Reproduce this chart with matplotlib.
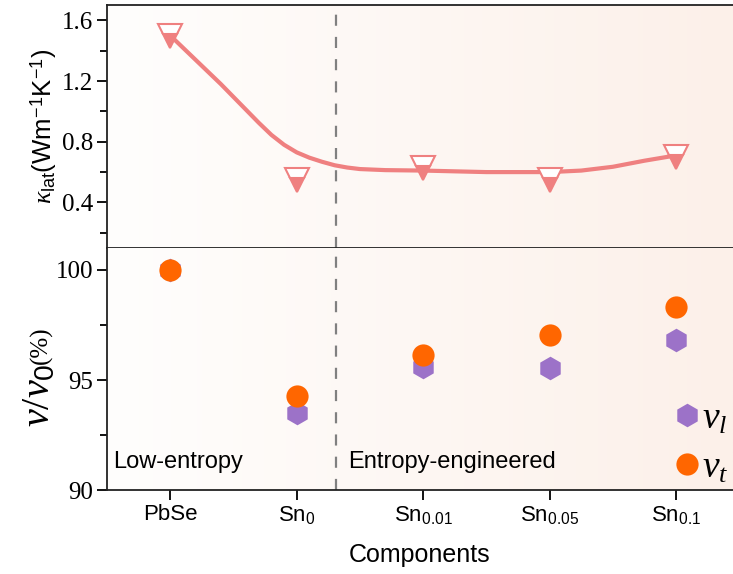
import numpy as np
import matplotlib.pyplot as plt
from matplotlib.lines import Line2D

plt.rcParams['font.family'] = ['Liberation Sans', 'DejaVu Sans']
plt.rcParams['font.serif'] = ['Liberation Serif', 'DejaVu Serif']
plt.rcParams['mathtext.fontset'] = 'custom'
plt.rcParams['mathtext.rm'] = 'Liberation Sans'
plt.rcParams['mathtext.it'] = 'Liberation Serif:italic'
plt.rcParams['mathtext.sf'] = 'Liberation Sans'

# samples along the x axis
components = ['PbSe', 'Sn$_{0}$', 'Sn$_{0.01}$', 'Sn$_{0.05}$', 'Sn$_{0.1}$']
kappa_lat = [1.50, 0.545, 0.624, 0.545, 0.697]

# smooth guide line through the kappa points
guide_x = [0, 0.1, 0.2, 0.3, 0.4, 0.5, 0.6, 0.7, 0.8, 0.9, 1.0, 1.1, 1.2,
           1.3, 1.4, 1.5, 1.7, 2.0, 2.5, 3.0, 3.25, 3.5, 3.75, 4.0]
guide_y = [1.50, 1.42, 1.34, 1.26, 1.18, 1.095, 1.01, 0.925, 0.845, 0.78,
           0.73, 0.695, 0.668, 0.645, 0.63, 0.62, 0.613, 0.61, 0.60, 0.60,
           0.61, 0.635, 0.675, 0.71]

# sound velocities relative to PbSe (%)
v_long = [100.0, 93.5, 95.6, 95.56, 96.82]
v_trans = [100.0, 94.29, 96.14, 97.05, 98.33]

divider = 1.31

pink = '#ef8080'
purple = '#9c72c8'
orange = '#ff6600'

fig = plt.figure(figsize=(7.33, 5.74), dpi=100)
ax1 = fig.add_axes([0.146, 0.568, 0.854, 0.423])
ax2 = fig.add_axes([0.146, 0.146, 0.854, 0.422], sharex=ax1)

x = np.arange(len(components))

# soft horizontal background shading
grad = np.linspace(0, 1, 256)
c0 = np.array([255, 254, 253]) / 255
c1 = np.array([252, 240, 233]) / 255
bg = (c0[None, :] * (1 - grad[:, None]) + c1[None, :] * grad[:, None])[None, :, :]
for ax in (ax1, ax2):
    ax.imshow(bg, aspect='auto', extent=[0, 1, 0, 1], transform=ax.transAxes,
              zorder=0)

# top panel: lattice thermal conductivity
ax1.plot(guide_x, guide_y, color=pink, lw=3, zorder=2, solid_capstyle='round')
ax1.plot(x, kappa_lat, linestyle='none', marker='v', markersize=17,
         fillstyle='bottom', markerfacecolor=pink, markerfacecoloralt='white',
         markeredgecolor=pink, markeredgewidth=1.5, zorder=3)
ax1.set_ylim(0.1, 1.7)
ax1.set_yticks([0.4, 0.8, 1.2, 1.6])
ax1.set_yticks([0.2, 0.6, 1.0, 1.4], minor=True)
ax1.set_ylabel(r'$\kappa_{\rm lat}$(Wm$^{-1}$K$^{-1}$)', fontsize=18.5,
               labelpad=2)
ax1.tick_params(axis='x', which='both', bottom=False, labelbottom=False)

# bottom panel: sound velocities
ax2.plot(x, v_long, linestyle='none', marker='h', markersize=17,
         color=purple, markeredgewidth=0, zorder=3)
ax2.plot(x, v_trans, linestyle='none', marker='o', markersize=16,
         color=orange, markeredgewidth=0, zorder=4)
ax2.set_ylim(90, 101)
ax2.set_yticks([90, 95, 100])
ax2.set_yticks([92.5, 97.5], minor=True)
ax2.set_xlim(-0.5, 4.45)
ax2.set_xticks(x)
ax2.set_xticklabels(components, fontsize=16)
ax2.set_xlabel('Components', fontsize=18, labelpad=12)

# y label of the lower panel: large italic ratio, smaller unit
fig.text(0.054, 0.312, r'$\nu$/$\nu_0$', rotation=90, fontsize=29,
         family='serif', ha='center', va='center')
fig.text(0.056, 0.398, '(%)', rotation=90, fontsize=18, family='serif',
         ha='center', va='center')

for ax in (ax1, ax2):
    ax.axvline(divider, color='#808080', lw=1.6, ls=(0, (5, 5)), zorder=1)
    ax.spines['right'].set_visible(False)
    for s in ax.spines.values():
        s.set_linewidth(1.3)
        s.set_color('#222222')
    ax.tick_params(axis='y', which='major', direction='out', length=7,
                   width=1.3, pad=3, labelsize=18,
                   labelfontfamily='serif')
    ax.tick_params(axis='y', which='minor', direction='out', length=5,
                   width=1.3)
ax2.tick_params(axis='x', which='major', direction='out', length=7, width=1.3,
                pad=3)
ax2.spines['top'].set_visible(False)

ax2.text(0.01, 0.115, 'Low-entropy', transform=ax2.transAxes, fontsize=17,
         va='center', ha='left')
ax2.text(0.385, 0.115, 'Entropy-engineered', transform=ax2.transAxes,
         fontsize=17, va='center', ha='left')

handles = [
    Line2D([], [], linestyle='none', marker='h', markersize=17, color=purple,
           markeredgewidth=0),
    Line2D([], [], linestyle='none', marker='o', markersize=16, color=orange,
           markeredgewidth=0),
]
ax2.legend(handles, [r'$\nu_l$', r'$\nu_t$'], loc='lower left',
           bbox_to_anchor=(0.896, 0.02), frameon=False, fontsize=27,
           handletextpad=-0.1, labelspacing=0.35, borderpad=0.0,
           borderaxespad=0.0, handlelength=1.0)

fig.savefig('out.png', dpi=100)
